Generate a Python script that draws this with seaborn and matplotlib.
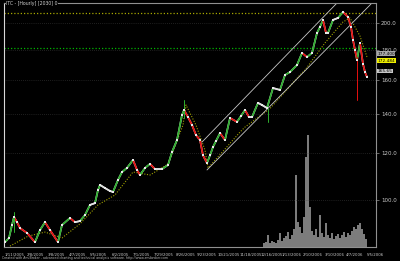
import numpy as np
import pandas as pd
import matplotlib
matplotlib.use("Agg")
import matplotlib.pyplot as plt
import seaborn as sns
from matplotlib.ticker import FixedLocator, NullLocator

# ---------------- data ----------------
bar = [5, 9, 12, 14, 17, 20, 27, 35, 40, 45, 50, 58, 62, 70, 75, 80, 85, 90, 95, 98,
       100, 105, 110, 113, 118, 122, 127, 133, 137, 140, 145, 150, 155, 162, 168, 172,
       177, 182, 184, 188, 192, 196, 200, 203, 207, 210, 213, 216, 220, 225, 230, 237,
       241, 245, 249, 252, 258, 262, 267, 273, 280, 285, 290, 297, 302, 307, 312, 317,
       320, 323, 326, 328, 333, 338, 343, 348, 351, 353, 355, 357, 360, 363, 365, 367]
close = [84.7, 86.1, 90.6, 93.5, 91.6, 89.5, 87.8, 84.7, 88.8, 91.6, 88.8, 84.7, 90.6,
         93.1, 91.6, 92.0, 94.2, 98.0, 98.7, 103.9, 106.0, 104.7, 103.5, 103.1, 108.1,
         111.5, 113.3, 116.9, 112.4, 110.2, 113.3, 115.1, 112.8, 112.8, 114.6, 120.6,
         126.4, 139.4, 142.2, 138.3, 134.1, 128.9, 126.4, 119.0, 115.5, 119.0, 123.0,
         125.9, 129.9, 126.4, 137.8, 135.7, 138.9, 142.2, 138.3, 138.3, 146.2, 145.0,
         143.3, 155.0, 153.8, 163.1, 165.0, 169.6, 177.8, 175.0, 177.8, 192.3, 196.9,
         202.4, 192.3, 192.3, 202.4, 204.0, 208.8, 204.8, 196.9, 187.1, 179.9, 173.0,
         184.9, 170.3, 165.0, 161.8]

wick_bar = [14, 184, 268, 357]
wick_low = [88.0, 138.0, 135.7, 147.9]
wick_high = [95.5, 147.9, 143.3, 175.0]

sar_bar = [10, 28, 45, np.nan, 62, 80, 98, np.nan, 115, 133, np.nan, 150, 168, 183, np.nan,
           186, 196, 205, np.nan, 208, 225, 240, np.nan, 245, 270, 300, np.nan,
           305, 325, 343, np.nan, 350, 360, 367]
sar_val = [83.4, 86.7, 88.1, np.nan, 86.1, 91.0, 98.0, np.nan, 101.9, 111.5, np.nan,
           110.2, 115.0, 134.1, np.nan, 145.0, 134.0, 121.5, np.nan, 113.3, 122.0, 130.4,
           np.nan, 133.0, 143.0, 163.1, np.nan, 166.3, 185.0, 200.8, np.nan,
           204.0, 190.0, 175.0]

channel_upper_bar = [202, 337]
channel_upper_val = [125.4, 216.3]
channel_lower_bar = [207, 372]
channel_lower_val = [112.4, 216.3]

resistance_level = 208.2
support_level = 181.3

vol_bar = list(range(264, 367, 2))
volume = [4, 5, 12, 4, 6, 5, 4, 7, 14, 6, 9, 11, 15, 8, 12, 18, 72, 25, 20, 14, 30,
          90, 112, 40, 16, 12, 18, 10, 32, 14, 10, 24, 12, 9, 14, 8, 11, 13, 9, 12,
          15, 10, 14, 12, 16, 20, 18, 22, 24, 18, 13, 8]

price_ticks = [100, 120, 140, 160, 180, 200]
price_tick_labels = ["100.0", "120.0", "140.0", "160.0", "180.0", "200.0"]

date_labels = ["1/11/2005", "2/8/2005", "3/8/2005", "4/7/2005", "5/5/2005", "6/2/2005",
               "7/1/2005", "7/29/2005", "8/26/2005", "9/23/2005", "10/21/2005",
               "11/18/2005", "12/16/2005", "1/13/2006", "2/10/2006", "3/10/2006",
               "4/7/2006", "5/5/2006"]

last_values = [177.40, 172.484, 165.65]
last_texts = ["177.400", "172.484", "165.65"]
last_colors = ["#a8a8a8", "#f0f000", "#c8c8c8"]

title = "ITC - [Hourly] [2030] 0"
caption = ("Created with AmiBroker - advanced charting and technical analysis software. "
           "http://www.amibroker.com")

# ---------------- style ----------------
sns.set_style("dark")
plt.rcParams["font.family"] = ["DejaVu Sans"]

W, H = 400, 261
fig = plt.figure(figsize=(W / 100, H / 100), dpi=100, facecolor="black")
ax = fig.add_axes([4 / W, 1 - 247 / H, 372 / W, 244 / H])
ax2 = ax.twinx()
ax.set_zorder(2)
ax2.set_zorder(1)
ax.patch.set_visible(False)
ax2.patch.set_facecolor("black")

# volume
ax2.bar(vol_bar, volume, width=1.1, color="#7c7c7c", linewidth=0)
ax2.set_ylim(0, 244)
ax2.set_yticks([])
for s in ax2.spines.values():
    s.set_visible(False)

# price axis
ax.set_yscale("log")
df = pd.DataFrame({"bar": bar, "close": close})

# horizontal levels
ax.axhline(resistance_level, color="#a8a800", lw=0.9, ls=(0, (1, 1.6)))
ax.axhline(support_level, color="#00b400", lw=0.9, ls=(0, (1, 1.6)))

# SAR dotted
sns.lineplot(x=sar_bar, y=sar_val, ax=ax, color="#a0a000", lw=0.8,
             linestyle=(0, (1, 1.4)), estimator=None, sort=False)

# channel
sns.lineplot(x=channel_upper_bar, y=channel_upper_val, ax=ax, color="#c8c8c8",
             lw=0.6, estimator=None)
sns.lineplot(x=channel_lower_bar, y=channel_lower_val, ax=ax, color="#c8c8c8",
             lw=0.6, estimator=None)

# base price line
sns.lineplot(data=df, x="bar", y="close", ax=ax, color="#d8d8d8", lw=1.2,
             estimator=None)
# coloured segments by direction
for i in range(len(bar) - 1):
    ch = close[i + 1] / close[i] - 1
    if ch > 0.008:
        c = "#2fb02f"
    elif ch < -0.015:
        c = "#e81010"
    else:
        c = "#e0e0e0"
    ax.plot(bar[i:i + 2], close[i:i + 2], color=c, lw=1.2, solid_capstyle="butt")
sns.scatterplot(data=df, x="bar", y="close", ax=ax, color="#e8e8e8", s=2.5,
                marker="s", linewidth=0, zorder=4)
for xb, lo, hi in zip(wick_bar, wick_low, wick_high):
    ax.plot([xb, xb], [lo, hi], color="#e81010" if xb > 300 else "#2fb02f", lw=0.7)

ax.set_xlim(4, 376)
ax.set_ylim(83.1, 216.3)
ax.set_xlabel("")
ax.set_ylabel("")

# y ticks right
ax.yaxis.tick_right()
ax.yaxis.set_major_locator(FixedLocator(price_ticks))
ax.yaxis.set_minor_locator(NullLocator())
ax.set_yticklabels(price_tick_labels)
ax.tick_params(axis="y", length=2, width=0.5, color="#909090", pad=1.5,
               labelsize=4, labelcolor="#c8c8c8")
ax.yaxis.grid(True, color="#3c3c3c", lw=0.5, ls=(0, (1, 2)))
ax.xaxis.grid(False)

# x ticks
xt = np.linspace(5, 367, len(date_labels))
ax.set_xticks(xt)
ax.set_xticklabels(date_labels, ha="left")
ax.tick_params(axis="x", length=3, width=0.5, color="#a0a0a0", pad=1,
               labelsize=2.8, labelcolor="#c8c8c8")

for name, s in ax.spines.items():
    s.set_visible(True)
    s.set_color("#909090")
    s.set_linewidth(0.8)
ax.spines["left"].set_color("#d8d8d8")

# last value boxes
tr = ax.get_yaxis_transform()
for v, t, c in zip(last_values, last_texts, last_colors):
    ax.text(1.004, v, t, transform=tr, fontsize=3.1, color="black", va="center",
            ha="left", bbox=dict(boxstyle="square,pad=0.08", fc=c, ec="none"),
            zorder=5, clip_on=False)

fig.text(6 / W, 1 - 3.5 / H, title, fontsize=3.3, color="#d0d0d0", va="center",
         ha="left", bbox=dict(boxstyle="square,pad=0.1", fc="black", ec="none"))
fig.text(2 / W, 1 - 258 / H, caption, fontsize=2.35, color="#b4b4b4", va="center",
         ha="left")

fig.savefig("out.png", dpi=100, facecolor="black")
